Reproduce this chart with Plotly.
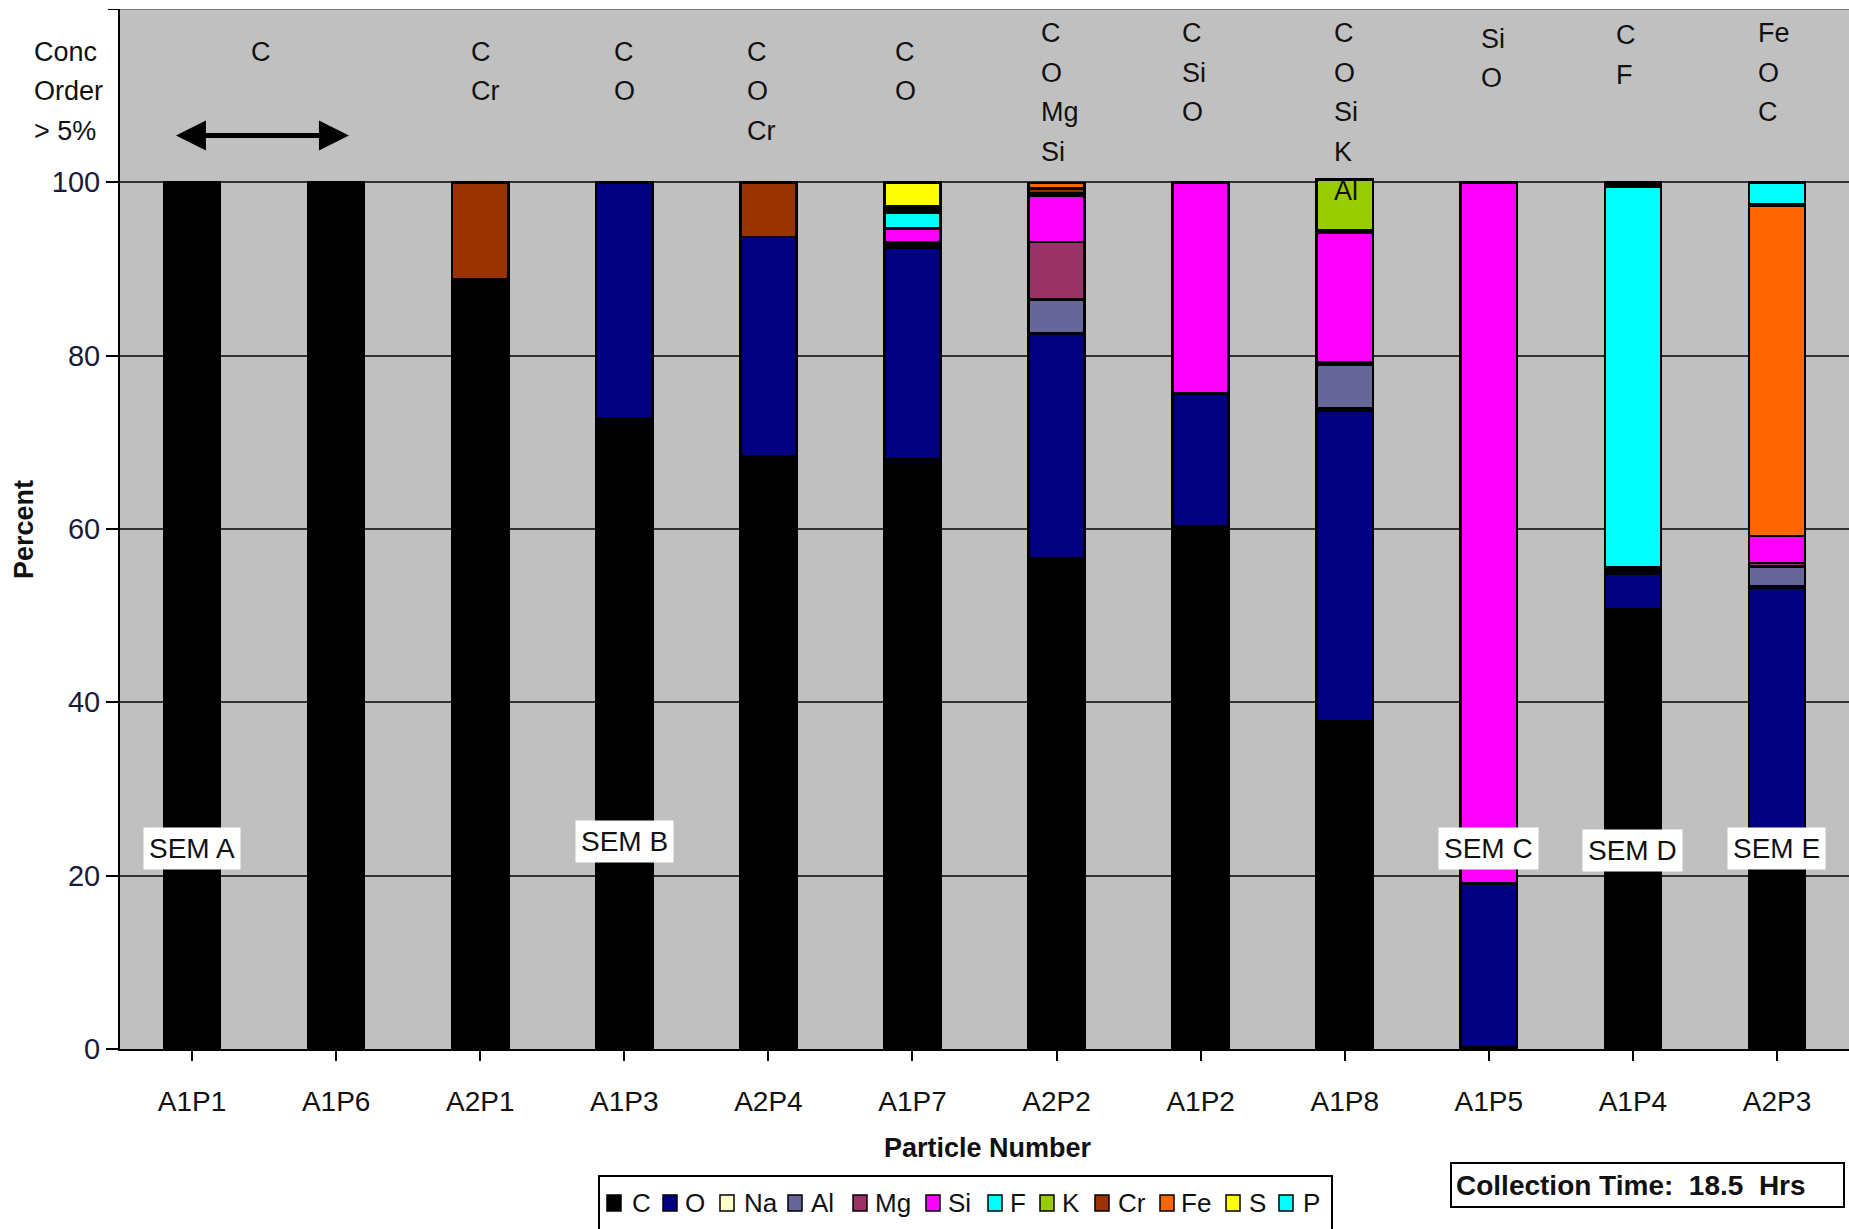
import plotly.graph_objects as go

# ---- data -------------------------------------------------------------
particles = ["A1P1", "A1P6", "A2P1", "A1P3", "A2P4", "A1P7",
             "A2P2", "A1P2", "A1P8", "A1P5", "A1P4", "A2P3"]
elements = ["C", "O", "Na", "Al", "Mg", "Si", "F", "K", "Cr", "Fe", "S", "P"]

C_pct  = [100, 100, 88.8, 72.8, 68.4, 68.0, 56.6, 60.3, 37.8, 0.2, 50.7, 23.0]
O_pct  = [0, 0, 0, 27.2, 25.3, 24.5, 25.9, 15.3, 35.8, 18.9, 4.1, 30.25]
Na_pct = [0, 0, 0, 0, 0, 0.2, 0.1, 0.1, 0.3, 0, 0.2, 0.15]
Al_pct = [0, 0, 0, 0, 0, 0.2, 3.9, 0, 5.0, 0, 0.2, 2.3]
Mg_pct = [0, 0, 0, 0, 0, 0.2, 6.6, 0, 0.3, 0, 0.2, 0.35]
Si_pct = [0, 0, 0, 0, 0, 1.6, 5.3, 24.3, 15.0, 80.9, 0.2, 3.15]
F_pct  = [0, 0, 0, 0, 0, 1.8, 0.15, 0, 0.3, 0, 43.9, 0]
K_pct  = [0, 0, 0, 0, 0, 0.25, 0.15, 0, 5.8, 0, 0.1, 0]
Cr_pct = [0, 0, 11.2, 0, 6.3, 0.25, 0.6, 0, 0, 0, 0.1, 0]
Fe_pct = [0, 0, 0, 0, 0, 0.25, 0.6, 0, 0, 0, 0.1, 38.1]
S_pct  = [0, 0, 0, 0, 0, 2.75, 0, 0, 0, 0, 0.1, 0.2]
P_pct  = [0, 0, 0, 0, 0, 0, 0, 0, 0, 0, 0.1, 2.5]

element_values = [C_pct, O_pct, Na_pct, Al_pct, Mg_pct, Si_pct,
                  F_pct, K_pct, Cr_pct, Fe_pct, S_pct, P_pct]

# elements above 5 %, listed per particle group in concentration order
order_lines = [["C"], ["C", "Cr"], ["C", "O"], ["C", "O", "Cr"], ["C", "O"],
               ["C", "O", "Mg", "Si"], ["C", "Si", "O"],
               ["C", "O", "Si", "K", "Al"], ["Si", "O"], ["C", "F"],
               ["Fe", "O", "C"]]

sem_labels = ["SEM A", "SEM B", "SEM C", "SEM D", "SEM E"]
sem_particles = ["A1P1", "A1P3", "A1P5", "A1P4", "A2P3"]

y_ticks = [0, 20, 40, 60, 80, 100]

# ---- styling / layout helpers ----------------------------------------
colors = ["#000000", "#000080", "#FFFFCC", "#666699", "#993366", "#FF00FF",
          "#00FFFF", "#99CC00", "#993300", "#FF6600", "#FFFF00", "#00FFFF"]

FONT = "Liberation Sans, Arial, sans-serif"
TXT = "#111111"

# left edge (category units) and first-line height of each header block
order_x = [0.394, 1.924, 2.914, 3.839, 4.862, 5.877, 6.859, 7.914, 8.929, 9.870, 10.852]
order_top_px = [51.9, 51.9, 51.9, 51.9, 51.9, 33.0, 33.0, 33.0, 38.9, 35.4, 33.0]
sem_y = [23.1, 24.0, 23.1, 22.9, 23.1]

# key layout (page pixels): swatch left edges and label left edges
key_swatch_px = [607, 663, 720, 788, 853, 926, 988, 1040, 1095, 1160, 1226, 1279]
key_label_px = [630, 683, 742, 809, 873, 946, 1008, 1060, 1116, 1179, 1247, 1301]
KEY_BOX = (599, 1176, 1332, 1245)   # left, top, right, bottom
KEY_ROW = 1203

W, H = 1849, 1229
ML, MR, MT, MB = 120, 0, 9, 180
PW = W - ML - MR
PH = H - MT - MB
Y_MAX = 120.0


def px_to_val(py):
    """page pixel row -> value on the percent axis"""
    return (H - MB - py) / PH * Y_MAX


def px_x(px):
    """page pixel column -> paper x"""
    return (px - ML) / PW


def px_y(py):
    """page pixel row -> paper y"""
    return (H - MB - py) / PH


fig = go.Figure()

for name, vals, col in zip(elements, element_values, colors):
    fig.add_trace(go.Bar(
        name=name,
        x=list(range(len(particles))),
        y=[v if v else None for v in vals],
        marker=dict(color=col, line=dict(color="#000000", width=2.5)),
        showlegend=False,
    ))

annotations = []
shapes = [
    # top border of the plot area
    dict(type="line", xref="paper", yref="y", x0=0, x1=1, y0=Y_MAX, y1=Y_MAX,
         line=dict(color="#7a7a7a", width=2)),
    # small tick at the top of the value axis
    dict(type="line", xref="paper", yref="y", x0=px_x(ML - 12), x1=0,
         y0=Y_MAX, y1=Y_MAX, line=dict(color="#000000", width=2)),
]

# header: element order blocks
line_pitch = 39.5
for xi, top_px, lines in zip(order_x, order_top_px, order_lines):
    for k, t in enumerate(lines):
        annotations.append(dict(
            x=xi, y=px_to_val(top_px + k * line_pitch), xref="x", yref="y",
            text=t, showarrow=False, xanchor="left", yanchor="middle",
            font=dict(family=FONT, size=27, color=TXT)))

for k, t in enumerate(["Conc", "Order", "&gt; 5%"]):
    annotations.append(dict(
        x=px_x(32), y=px_to_val(51.9 + k * line_pitch), xref="paper", yref="y",
        text=t, showarrow=False, xanchor="left", yanchor="middle",
        font=dict(family=FONT, size=27, color=TXT)))

# double arrow spanning the first two particles
annotations.append(dict(
    x=1.089, y=105.4, ax=-0.122, ay=105.4, xref="x", yref="y",
    axref="x", ayref="y", text="", showarrow=True,
    arrowhead=2, arrowside="end+start", arrowwidth=5, arrowsize=1.2,
    arrowcolor="#000000", standoff=0, startstandoff=0))

# SEM image labels
for lab, p, yv in zip(sem_labels, sem_particles, sem_y):
    annotations.append(dict(
        x=particles.index(p), y=yv, xref="x", yref="y", text=lab,
        showarrow=False, bgcolor="#FFFFFF", borderpad=5,
        font=dict(family=FONT, size=28, color=TXT)))

# axis titles
annotations.append(dict(
    x=0.5023, y=px_y(1148), xref="paper", yref="paper", text="<b>Particle Number</b>",
    xanchor="center", yanchor="middle",
    showarrow=False, font=dict(family=FONT, size=27, color=TXT)))
annotations.append(dict(
    x=px_x(24), y=px_y(530), xref="paper", yref="paper", text="<b>Percent</b>",
    xanchor="center", yanchor="middle",
    textangle=-90, showarrow=False, font=dict(family=FONT, size=27, color=TXT)))

# collection time box
annotations.append(dict(
    x=px_x(1450), y=px_y(1184.5), xref="paper", yref="paper",
    text="<b>Collection Time:&nbsp; 18.5&nbsp; Hrs</b>", showarrow=False,
    xanchor="left", yanchor="middle", align="left", width=383, height=34,
    bgcolor="#FFFFFF", bordercolor="#000000", borderwidth=2, borderpad=4,
    font=dict(family=FONT, size=28, color=TXT)))

# element key under the chart
shapes.append(dict(type="rect", xref="paper", yref="paper",
                   x0=px_x(KEY_BOX[0]), x1=px_x(KEY_BOX[2]),
                   y0=px_y(KEY_BOX[1]), y1=px_y(KEY_BOX[3]),
                   fillcolor="#FFFFFF", line=dict(color="#000000", width=2),
                   layer="above"))
for name, col, sx, lx in zip(elements, colors, key_swatch_px, key_label_px):
    shapes.append(dict(type="rect", xref="paper", yref="paper",
                       x0=px_x(sx), x1=px_x(sx + 14),
                       y0=px_y(KEY_ROW - 8), y1=px_y(KEY_ROW + 8),
                       fillcolor=col, line=dict(color="#000000", width=1.5),
                       layer="above"))
    annotations.append(dict(x=px_x(lx), y=px_y(KEY_ROW), xref="paper", yref="paper",
                            text=name, showarrow=False, xanchor="left",
                            yanchor="middle",
                            font=dict(family=FONT, size=26, color=TXT)))

fig.update_layout(
    width=W, height=H,
    margin=dict(l=ML, r=MR, t=MT, b=MB, pad=0),
    paper_bgcolor="#FFFFFF", plot_bgcolor="#C0C0C0",
    barmode="stack", bargap=0.61,
    showlegend=False,
    annotations=annotations, shapes=shapes,
    xaxis=dict(range=[-0.5, len(particles) - 0.5], tickvals=list(range(len(particles))),
               ticktext=particles, tickson="boundaries", ticks="outside", ticklen=10,
               tickwidth=2, tickcolor="#000000", showline=True, linecolor="#000000",
               linewidth=2, showgrid=False, zeroline=False, ticklabelstandoff=16,
               tickfont=dict(family=FONT, size=28, color=TXT)),
    yaxis=dict(range=[0, Y_MAX], tickvals=y_ticks, ticks="outside", ticklen=12,
               tickwidth=2, tickcolor="#000000", showline=True, linecolor="#000000",
               linewidth=2, showgrid=True, gridcolor="#333333", gridwidth=2,
               zeroline=False, tickfont=dict(family=FONT, size=29, color="#1a1a3a")),
)

fig.write_html("out.html", config={"displayModeBar": False})
